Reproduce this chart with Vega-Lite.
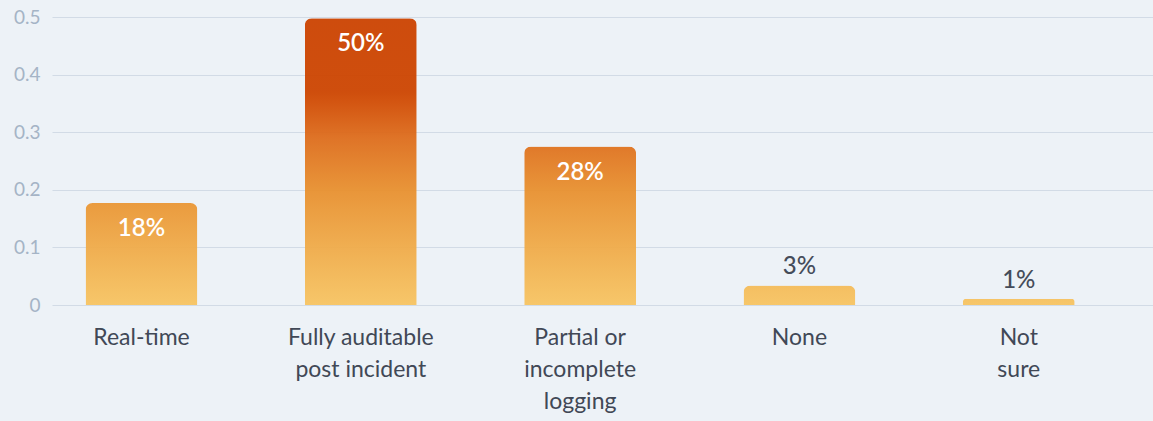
{
  "$schema": "https://vega.github.io/schema/vega-lite/v6.json",
  "autosize": {"type": "none"},
  "width": 1101,
  "height": 288,
  "padding": {"left": 52, "top": 17, "right": 0, "bottom": 116},
  "background": "#edf2f7",
  "config": {
    "view": {"stroke": null},
    "font": "Lato"
  },
  "data": {
    "values": [
      {"category": "Real-time", "share": 0.177},
      {"category": "Fully auditable\npost incident", "share": 0.498},
      {"category": "Partial or\nincomplete\nlogging", "share": 0.275},
      {"category": "None", "share": 0.034},
      {"category": "Not\nsure", "share": 0.011}
    ]
  },
  "encoding": {
    "x": {
      "field": "category",
      "type": "nominal",
      "sort": null,
      "scale": {"paddingInner": 0.49, "paddingOuter": 0.255, "align": 0.3},
      "axis": {
        "title": null,
        "labelAngle": 0,
        "domain": false,
        "ticks": false,
        "labelPadding": 32,
        "labelFontSize": 23,
        "labelLineHeight": 32,
        "labelColor": "#414856",
        "labelBaseline": "middle",
        "labelExpr": "split(datum.label, '\\n')"
      }
    },
    "y": {
      "field": "share",
      "type": "quantitative",
      "scale": {"domain": [0, 0.5], "nice": false},
      "axis": {
        "title": null,
        "values": [0, 0.1, 0.2, 0.3, 0.4, 0.5],
        "format": "~g",
        "domain": false,
        "ticks": false,
        "labelPadding": 12,
        "labelFontSize": 19,
        "labelColor": "#a5b4c6",
        "gridColor": "#d2dbe6",
        "gridWidth": 1.2
      }
    }
  },
  "layer": [
    {
      "mark": {"type": "bar", "cornerRadiusTopLeft": 7, "cornerRadiusTopRight": 7, "fillOpacity": 0.95},
      "encoding": {
        "color": {
          "condition": [
            {"test": "datum.category === 'Real-time'", "value": {"gradient": "linear", "x1": 0, "x2": 0, "y1": -1.8249, "y2": 1, "stops": [{"offset": 0, "color": "#cc4300"}, {"offset": 0.26, "color": "#cd4500"}, {"offset": 0.3, "color": "#d24e06"}, {"offset": 0.42, "color": "#de6d1c"}, {"offset": 0.6, "color": "#e8902f"}, {"offset": 0.8, "color": "#f0ab49"}, {"offset": 1, "color": "#f7c462"}]}},
            {"test": "datum.category === 'Fully auditable\\npost incident'", "value": {"gradient": "linear", "x1": 0, "x2": 0, "y1": -0.004, "y2": 1, "stops": [{"offset": 0, "color": "#cc4300"}, {"offset": 0.26, "color": "#cd4500"}, {"offset": 0.3, "color": "#d24e06"}, {"offset": 0.42, "color": "#de6d1c"}, {"offset": 0.6, "color": "#e8902f"}, {"offset": 0.8, "color": "#f0ab49"}, {"offset": 1, "color": "#f7c462"}]}},
            {"test": "datum.category === 'Partial or\\nincomplete\\nlogging'", "value": {"gradient": "linear", "x1": 0, "x2": 0, "y1": -0.8182, "y2": 1, "stops": [{"offset": 0, "color": "#cc4300"}, {"offset": 0.26, "color": "#cd4500"}, {"offset": 0.3, "color": "#d24e06"}, {"offset": 0.42, "color": "#de6d1c"}, {"offset": 0.6, "color": "#e8902f"}, {"offset": 0.8, "color": "#f0ab49"}, {"offset": 1, "color": "#f7c462"}]}},
            {"test": "datum.category === 'None'", "value": {"gradient": "linear", "x1": 0, "x2": 0, "y1": -13.706, "y2": 1, "stops": [{"offset": 0, "color": "#cc4300"}, {"offset": 0.26, "color": "#cd4500"}, {"offset": 0.3, "color": "#d24e06"}, {"offset": 0.42, "color": "#de6d1c"}, {"offset": 0.6, "color": "#e8902f"}, {"offset": 0.8, "color": "#f0ab49"}, {"offset": 1, "color": "#f7c462"}]}}
          ],
          "value": {"gradient": "linear", "x1": 0, "x2": 0, "y1": -44.45, "y2": 1, "stops": [{"offset": 0, "color": "#cc4300"}, {"offset": 0.26, "color": "#cd4500"}, {"offset": 0.3, "color": "#d24e06"}, {"offset": 0.42, "color": "#de6d1c"}, {"offset": 0.6, "color": "#e8902f"}, {"offset": 0.8, "color": "#f0ab49"}, {"offset": 1, "color": "#f7c462"}]}
        }
      }
    },
    {
      "transform": [{"filter": "datum.share >= 0.1"}],
      "mark": {"type": "text", "baseline": "middle", "dy": 26, "fontSize": 24, "fontWeight": 600, "color": "#ffffff"},
      "encoding": {"text": {"field": "share", "type": "quantitative", "format": ".0%"}}
    },
    {
      "transform": [{"filter": "datum.share < 0.1"}],
      "mark": {"type": "text", "baseline": "middle", "dy": -18, "fontSize": 24, "fontWeight": 500, "color": "#454c5a"},
      "encoding": {"text": {"field": "share", "type": "quantitative", "format": ".0%"}}
    }
  ]
}
